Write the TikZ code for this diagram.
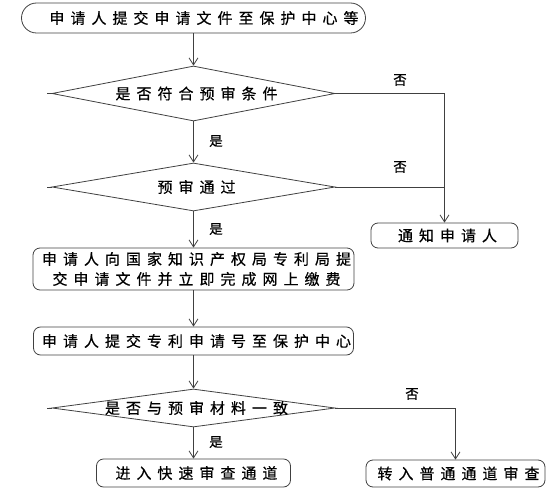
\documentclass[tikz,border=0pt]{standalone}
\usepackage{fontspec}
\setmainfont{Noto Sans CJK SC}[FakeBold=0.5]
\newfontfamily\spaced{Noto Sans CJK SC}[LetterSpace=40,FakeBold=0.5]
\usetikzlibrary{shapes.geometric,arrows.meta}
\begin{document}
\begin{tikzpicture}[x=1pt,y=-1pt,
  line width=0.8pt, color=black!75,
  txt/.style={font=\spaced\fontsize{15pt}{20pt}\selectfont, text=black, align=center, xshift=3pt},
  box/.style={draw=black!75, rectangle, rounded corners=7pt, inner sep=0pt, txt},
  dia/.style={draw=black!75, diamond, inner sep=0pt},
  lbl/.style={font=\fontsize{13.5pt}{15pt}\selectfont, text=black, inner sep=0pt},
  arr/.style={-{Straight Barb[length=7pt,width=9pt]}}
]
\useasboundingbox (0,0) rectangle (554,500);
% boxes
\node[box, rounded corners=15pt, minimum width=344pt, minimum height=30pt, xshift=-3pt] (start) at (193.5,18) {\hspace*{21pt}申请人提交申请文件至保护中心等};
\node[dia, minimum width=283pt, minimum height=55pt] (d1) at (193.5,93.5) {};
\node[txt] (t1) at (d1) {是否符合预审条件};
\node[dia, minimum width=283pt, minimum height=48pt] (d2) at (193.5,187) {};
\node[txt] (t2) at (d2) {预审通过};
\node[box, minimum width=147pt, minimum height=25pt, xshift=-3pt] (note) at (444.5,235.5) {\hspace*{6pt}通知申请人};
\node[box, minimum width=321pt, minimum height=42pt, xshift=-3pt] (b3) at (193.5,269) {\hspace*{6pt}申请人向国家知识产权局专利局提\\\hspace*{6pt}交申请文件并立即完成网上缴费};
\node[box, minimum width=320pt, minimum height=28pt, xshift=-3pt] (b4) at (193.5,341) {\hspace*{6pt}申请人提交专利申请号至保护中心};
\node[dia, minimum width=283pt, minimum height=38pt] (d3) at (193.5,408) {};
\node[txt] (t3) at (d3) {是否与预审材料一致};
\node[box, minimum width=194pt, minimum height=28pt, xshift=-3pt] (b5) at (193.5,473) {\hspace*{6pt}进入快速审查通道};
\node[box, minimum width=179pt, minimum height=27pt, xshift=-3pt] (b6) at (455.5,473.5) {\hspace*{6pt}转入普通通道审查};
% labels
\node[lbl] (n1) at (400,80) {否};
\node[lbl] (n2) at (400,167) {否};
\node[lbl] (n3) at (412,394) {否};
\node[lbl] (y1) at (216,141) {是};
\node[lbl] (y2) at (216,229) {是};
\node[lbl] (y3) at (216,442) {是};
% tails
\draw (d1.west) -- ++(-5,0);
\draw (d2.west) -- ++(-5,0);
\draw (d3.west) -- ++(-5,0);
% connectors
\draw[arr] (start.south) -- (d1.north);
\draw[arr] (d1.south) -- (d2.north);
\draw[arr] (d2.south) -- (b3.north);
\draw[arr] (b3.south) -- (b4.north);
\draw[arr] (b4.south) -- (d3.north);
\draw[arr] (d3.south) -- (b5.north);
\draw[arr] (d1.east) -| (note.north);
\draw (d2.east) -- (d2.east -| note.north);
\draw[arr] (d3.east) -| (b6.north);
\end{tikzpicture}
\end{document}
